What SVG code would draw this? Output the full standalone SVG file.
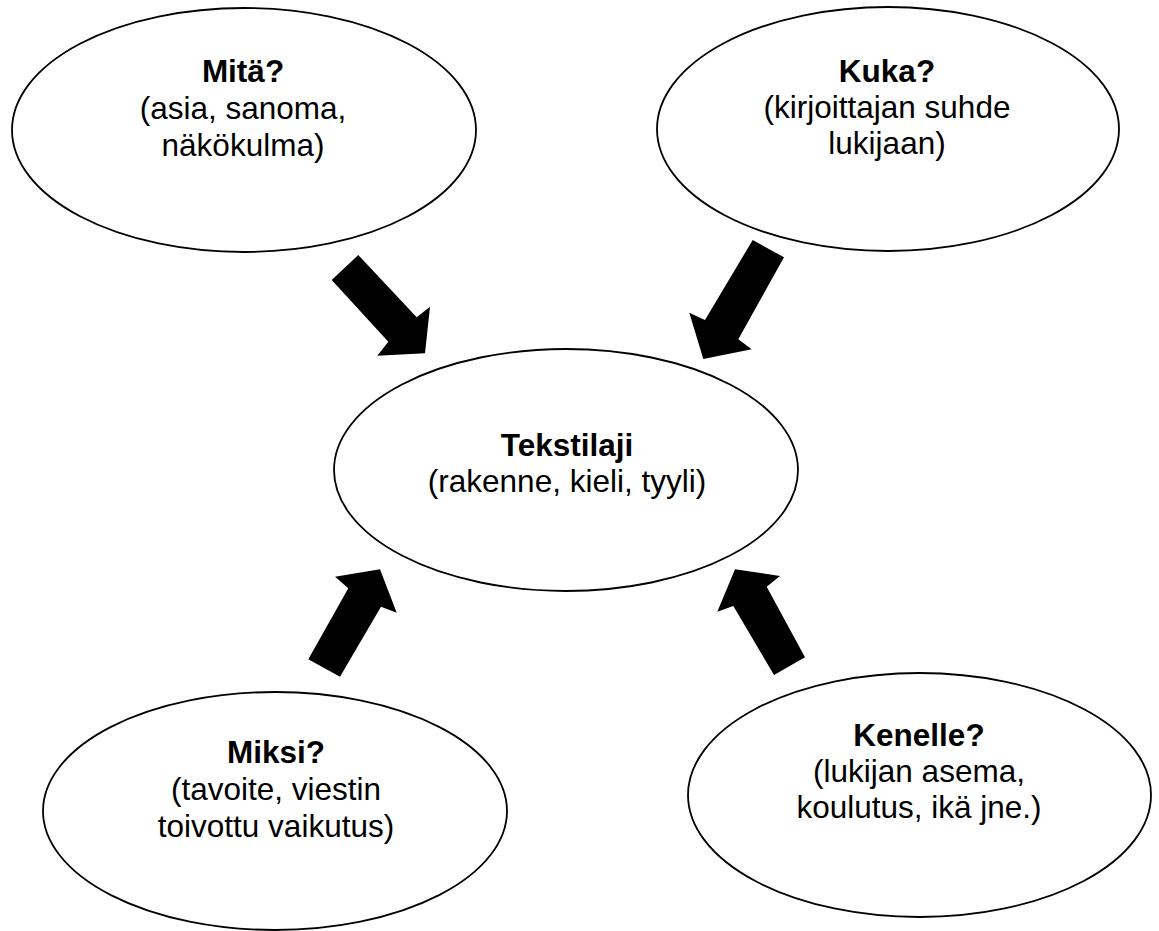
<svg xmlns="http://www.w3.org/2000/svg" width="1159" height="931" viewBox="0 0 1159 931">
<style>
.n{fill:#fff;stroke:#000;stroke-width:1.8}
.t{font-family:"Liberation Sans",Arial,sans-serif;font-size:31.5px;fill:#000;text-anchor:middle}
.b{font-weight:bold}
.a{fill:#000;stroke:none}
</style>
<rect width="1159" height="931" fill="#fff"/>
<g id="connectors">
<polygon class="a" points="331.7,280 358.3,255 416.7,317.3 430,306.7 425,353.3 377.3,355.7 388.3,341.7"/>
<polygon class="a" points="752.7,240 784,257.3 738.3,339.3 751.7,349.3 703.3,359 689.3,312.7 705,320"/>
<polygon class="a" points="380,569.3 396.7,612.7 381,606.7 340,676.7 308.3,659.3 348.3,588.3 335,576.7"/>
<polygon class="a" points="735,569.3 780,576 766.7,586.7 805,657.3 774,675 733.3,606 717.3,611.7"/>
</g>
<g id="mita">
<ellipse class="n" cx="244" cy="130" rx="232" ry="122"/>
<text class="t b" x="243" y="82">Mitä?</text>
<text class="t" x="243" y="119">(asia, sanoma,</text>
<text class="t" x="243" y="156">näkökulma)</text>
</g>
<g id="kuka">
<ellipse class="n" cx="888" cy="129" rx="231" ry="122"/>
<text class="t b" x="887" y="82">Kuka?</text>
<text class="t" x="887" y="118">(kirjoittajan suhde</text>
<text class="t" x="887" y="154">lukijaan)</text>
</g>
<g id="tekstilaji">
<ellipse class="n" cx="566" cy="470" rx="232" ry="121"/>
<text class="t b" x="567" y="456">Tekstilaji</text>
<text class="t" x="567" y="492">(rakenne, kieli, tyyli)</text>
</g>
<g id="miksi">
<ellipse class="n" cx="275" cy="811" rx="232" ry="119"/>
<text class="t b" x="276" y="763">Miksi?</text>
<text class="t" x="276" y="800">(tavoite, viestin</text>
<text class="t" x="276" y="837">toivottu vaikutus)</text>
</g>
<g id="kenelle">
<ellipse class="n" cx="919.5" cy="795" rx="231.5" ry="122"/>
<text class="t b" x="919" y="746">Kenelle?</text>
<text class="t" x="919" y="782">(lukijan asema,</text>
<text class="t" x="919" y="818">koulutus, ikä jne.)</text>
</g>
</svg>
